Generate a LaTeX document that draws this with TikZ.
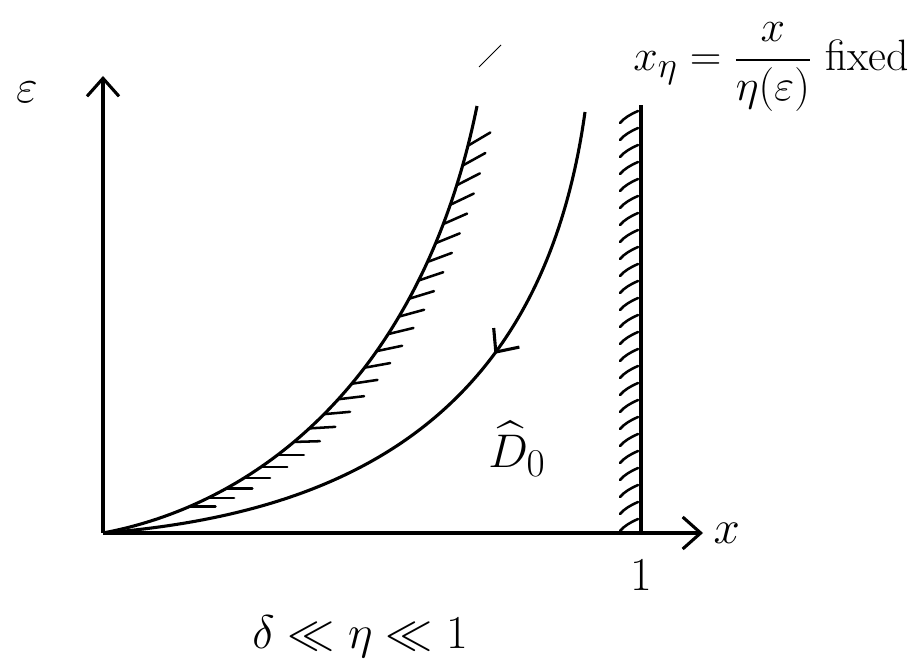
\documentclass[tikz,border=0pt]{standalone}
\usepackage{amsmath, amssymb}
\usetikzlibrary{arrows.meta, decorations.markings, positioning}

\tikzset{
  axis/.style={line width=2.2pt, -{Straight Barb[length=4.5mm,width=8mm]}},
  curve/.style={line width=2.2pt},
  hatch/.style={line width=1.8pt, line cap=round},
  lbl/.style={font=\Huge, scale=1.35},
}

\begin{document}
\begin{tikzpicture}[x=0.025cm, y=0.025cm]
\useasboundingbox (-103,-135) rectangle (816,533);

% --- sumbu ---
\coordinate (o) at (0,0);
\coordinate (xend) at (600,0);
\coordinate (yend) at (0,457);
\draw[axis] (o) -- (xend);
\draw[axis] (o) -- (yend);

\node[lbl] (eps) at (-76,441) {$\varepsilon$};
\node[lbl, right=1mm of xend] (xlbl) {$x$};

% --- dinding x = 1 ---
\coordinate (wallbot) at (538,0);
\coordinate (walltop) at (538,428);
\draw[curve] (wallbot) -- (walltop);
\foreach \y in {14,31,...,422}
  \draw[hatch] (535,\y) .. controls (528,\y-3) and (521,\y-7) .. (517,\y-12);

\node[lbl, below=5mm of wallbot] (one) {$1$};

% --- kurva kiri (berarsir) ---
\draw[curve, postaction={decorate}, decoration={markings,
  mark=between positions 0.15 and 0.96 step 0.034 with {
    \pgftransformresetnontranslations
    \pgfmathsetmacro\ha{max(0,(\pgfkeysvalueof{/pgf/decoration/mark info/sequence number}-6)*1.7)}
    \draw[hatch] (0,0) -- (\ha:0.65cm);
  }}]
  (o) .. controls (160,30) and (320,160) .. (374,427);

% --- kurva kanan ---
\draw[curve, postaction={decorate}, decoration={markings,
  mark=at position 0.63 with {\arrowreversed{Straight Barb[length=4.5mm,width=8mm]}}}]
  (o) .. controls (250,20) and (440,120) .. (482,421);

\node[lbl] (dhat) at (414,84) {$\widehat{D}_0$};

% coretan kecil
\draw[line width=0.6pt] (376,466) -- (398,488);

% --- teks ---
\node[lbl, scale=0.93, anchor=east] (fix) at (812,466) {$x_\eta = \dfrac{x}{\eta(\varepsilon)}$ fixed};
\node[lbl] (rel) at (257,-104) {$\delta \ll \eta \ll 1$};

\end{tikzpicture}
\end{document}
